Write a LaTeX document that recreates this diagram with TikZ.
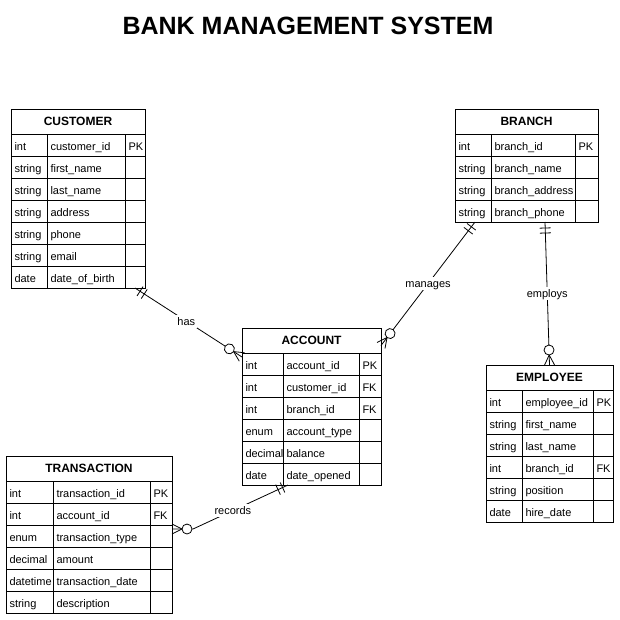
\documentclass[tikz,border=0pt]{standalone}
\usepackage{fontspec}
\setmainfont{Liberation Sans}
\usetikzlibrary{
  positioning,
  decorations.markings
}
\tikzset{
  head/.style={draw, anchor=north west, minimum height=25pt, inner sep=0pt, outer sep=0pt, text height=8.6pt, text depth=0pt, font=\bfseries\fontsize{12}{14}\selectfont},
  cell/.style={draw, anchor=north west, minimum height=22pt, inner xsep=3.5pt, inner ysep=0pt, outer sep=0pt, text width=#1, text height=10pt, text depth=0pt, align=flush left, font=\fontsize{11}{13}\selectfont},
  lbl/.style={fill=white, inner sep=1.5pt, text height=9pt, text depth=1pt, font=\fontsize{11}{13}\selectfont},
  mandone/.style={postaction={decorate, decoration={markings,
    mark=at position 6pt with {\draw (0,-5.5pt) -- (0,5.5pt);},
    mark=at position 11pt with {\draw (0,-5.5pt) -- (0,5.5pt);}}}},
  zeromany/.style={postaction={decorate, decoration={markings,
    mark=at position 1 with {\draw (-10pt,0) -- (0,5pt) (-10pt,0) -- (0,-5pt);
      \draw[fill=white] (-15pt,0) circle (5pt);}}}}
}

\begin{document}
\begin{tikzpicture}[x=1pt, y=-1pt, line width=0.8pt]
    \useasboundingbox (0,0) rectangle (620,619);
    \node[font=\bfseries\fontsize{25}{29}\selectfont] (title) at (308,26) {BANK MANAGEMENT SYSTEM};

    \node[head, minimum width=134pt] (cust) at (11,109) {CUSTOMER};
    \foreach \ty/\nm/\ky [count=\i] in {int/customer\_id/PK, string/first\_name/{}, string/last\_name/{}, string/address/{}, string/phone/{}, string/email/{}, date/date\_of\_birth/{}}{
      \node[cell=29pt] (cust-t\i) at (11,{134+22*(\i-1)}) {\ty};
      \node[cell=71pt, right=0pt of cust-t\i] (cust-n\i) {\nm};
      \node[cell=13pt, right=0pt of cust-n\i] (cust-k\i) {\ky};
    }

    \node[head, minimum width=143pt] (br) at (455,109) {BRANCH};
    \foreach \ty/\nm/\ky [count=\i] in {int/branch\_id/PK, string/branch\_name/{}, string/branch\_address/{}, string/branch\_phone/{}}{
      \node[cell=29pt] (br-t\i) at (455,{134+22*(\i-1)}) {\ty};
      \node[cell=77pt, right=0pt of br-t\i] (br-n\i) {\nm};
      \node[cell=16pt, right=0pt of br-n\i] (br-k\i) {\ky};
    }

    \node[head, minimum width=139pt] (acc) at (242,328) {ACCOUNT};
    \foreach \ty/\nm/\ky [count=\i] in {int/account\_id/PK, int/customer\_id/FK, int/branch\_id/FK, enum/account\_type/{}, decimal/balance/{}, date/date\_opened/{}}{
      \node[cell=34pt] (acc-t\i) at (242,{353+22*(\i-1)}) {\ty};
      \node[cell=69pt, right=0pt of acc-t\i] (acc-n\i) {\nm};
      \node[cell=15pt, right=0pt of acc-n\i] (acc-k\i) {\ky};
    }

    \node[head, minimum width=166pt] (tr) at (6,456) {TRANSACTION};
    \foreach \ty/\nm/\ky [count=\i] in {int/transaction\_id/PK, int/account\_id/FK, enum/transaction\_type/{}, decimal/amount/{}, datetime/transaction\_date/{}, string/description/{}}{
      \node[cell=40pt] (tr-t\i) at (6,{481+22*(\i-1)}) {\ty};
      \node[cell=90pt, right=0pt of tr-t\i] (tr-n\i) {\nm};
      \node[cell=15pt, right=0pt of tr-n\i] (tr-k\i) {\ky};
    }

    \node[head, minimum width=127pt] (emp) at (486,365) {EMPLOYEE};
    \foreach \ty/\nm/\ky [count=\i] in {int/employee\_id/PK, string/first\_name/{}, string/last\_name/{}, int/branch\_id/FK, string/position/{}, date/hire\_date/{}}{
      \node[cell=29pt] (emp-t\i) at (486,{390+22*(\i-1)}) {\ty};
      \node[cell=64pt, right=0pt of emp-t\i] (emp-n\i) {\nm};
      \node[cell=13pt, right=0pt of emp-n\i] (emp-k\i) {\ky};
    }

    \coordinate (rec-end) at ([yshift=-4pt]tr-k3.north east);
    \draw[mandone, zeromany] (cust-k7.south) -- node[lbl, pos=0.48] {has} ([yshift=-4pt]acc.south west);
    \draw[mandone, zeromany] ([xshift=2pt]br-t4.south) -- node[lbl] {manages} ([yshift=-5pt]acc.east);
    \draw[mandone, zeromany] ([xshift=12pt]br-n4.south) -- node[lbl] {employs} (emp.north);
    \draw[mandone, zeromany] ([xshift=5pt]acc-n6.south west) -- node[lbl, pos=0.58] {records} ([xshift=21pt]rec-end) -- (rec-end);
\end{tikzpicture}
\end{document}
